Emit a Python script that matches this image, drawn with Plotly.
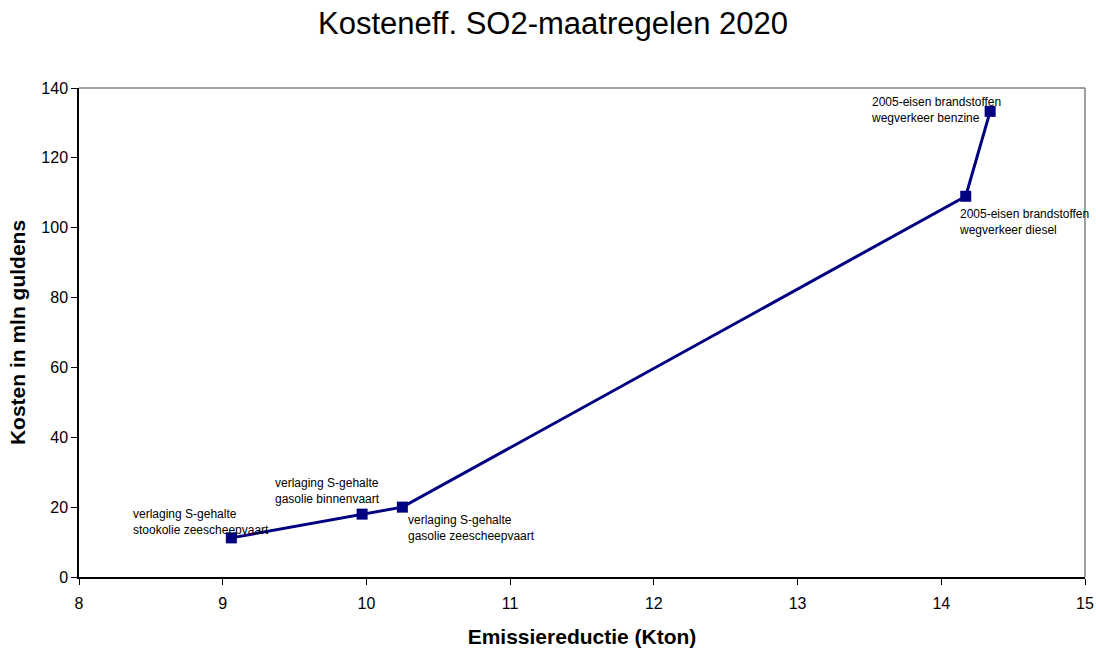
import plotly.graph_objects as go

# Emission reduction (Kton) and cost (mln guldens) per SO2 measure
reductie = [9.06, 9.97, 10.25, 14.17, 14.34]
kosten = [11.2, 18.0, 20.0, 109.0, 133.3]
maatregelen = [
    "verlaging S-gehalte<br>stookolie zeescheepvaart",
    "verlaging S-gehalte<br>gasolie binnenvaart",
    "verlaging S-gehalte<br>gasolie zeescheepvaart",
    "2005-eisen brandstoffen<br>wegverkeer diesel",
    "2005-eisen brandstoffen<br>wegverkeer benzine",
]
# label offsets in pixels relative to each point
label_dx = [-100, -89, 4, -9, -121]
label_dy = [16, 23, -21, -26, 1]

x_ticks = [8, 9, 10, 11, 12, 13, 14, 15]
y_ticks = [0, 20, 40, 60, 80, 100, 120, 140]

font_family = "Liberation Sans, Arial, sans-serif"

fig = go.Figure()
fig.add_trace(go.Scatter(
    x=reductie, y=kosten, mode="lines+markers",
    line=dict(color="#000080", width=3),
    marker=dict(symbol="square", size=11, color="#000080"),
    showlegend=False, hoverinfo="x+y",
))

for xv, yv, txt, dx, dy in zip(reductie, kosten, maatregelen, label_dx, label_dy):
    fig.add_annotation(
        x=xv, y=yv, text=txt, showarrow=False,
        xanchor="left", yanchor="middle", align="left",
        xshift=dx, yshift=dy,
        font=dict(family=font_family, size=12, color="#000000"),
    )

fig.update_layout(
    width=1096, height=649,
    margin=dict(l=79, r=11, t=88, b=72),
    paper_bgcolor="white", plot_bgcolor="white",
    font=dict(family=font_family, color="#000000"),
    title=dict(
        text="Kosteneff. SO2-maatregelen 2020",
        x=553 / 1096, xanchor="center", y=1 - 23 / 649, yanchor="middle",
        font=dict(size=31, family=font_family, color="#000000"),
    ),
    xaxis=dict(
        range=[8, 15], tickvals=x_ticks, ticks="outside", ticklen=6,
        tickcolor="#000000", showgrid=False, zeroline=False,
        showline=True, linecolor="#000000", linewidth=1.5,
        mirror=False, tickfont=dict(size=16), automargin=False,
        ticklabelstandoff=5,
        title=dict(text="<b>Emissiereductie (Kton)</b>", font=dict(size=21), standoff=18),
    ),
    yaxis=dict(
        range=[0, 140], tickvals=y_ticks, ticks="outside", ticklen=6,
        tickcolor="#000000", showgrid=False, zeroline=False,
        showline=True, linecolor="#000000", linewidth=1.5,
        tickfont=dict(size=16), automargin=False,
        title=dict(text="<b>Kosten in mln guldens</b>", font=dict(size=21), standoff=10),
    ),
    shapes=[
        dict(type="line", xref="paper", yref="paper", x0=0, x1=1, y0=1, y1=1,
             line=dict(color="#808080", width=1.5)),
        dict(type="line", xref="paper", yref="paper", x0=1, x1=1, y0=0, y1=1,
             line=dict(color="#808080", width=1.5)),
    ],
)

fig.write_html("out.html")
